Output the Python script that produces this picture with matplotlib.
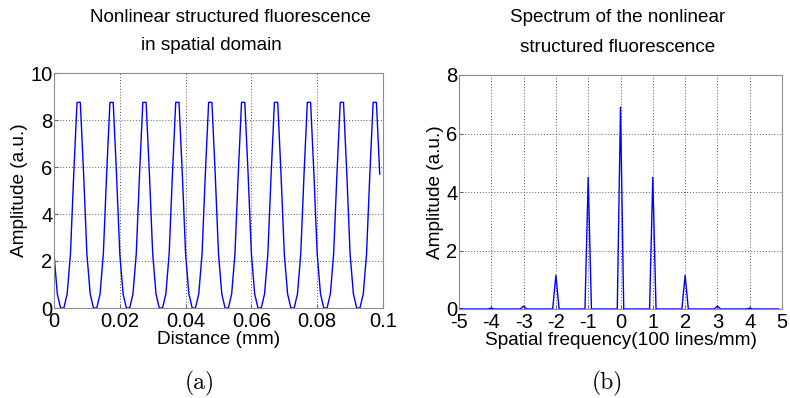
import numpy as np
import matplotlib
matplotlib.use("Agg")
from matplotlib import pyplot as plt

# --- datos ---
# (a) fluorescencia estructurada, muestreo cada 0.001 mm (100 muestras)
dx = 0.001
amplitude = [
    2.3, 0.6, 0.0, 0.0, 0.6, 2.3, 5.7, 8.75, 8.75, 5.7,
    2.3, 0.6, 0.0, 0.0, 0.6, 2.3, 5.7, 8.75, 8.75, 5.7,
    2.3, 0.6, 0.0, 0.0, 0.6, 2.3, 5.7, 8.75, 8.75, 5.7,
    2.3, 0.6, 0.0, 0.0, 0.6, 2.3, 5.7, 8.75, 8.75, 5.7,
    2.3, 0.6, 0.0, 0.0, 0.6, 2.3, 5.7, 8.75, 8.75, 5.7,
    2.3, 0.6, 0.0, 0.0, 0.6, 2.3, 5.7, 8.75, 8.75, 5.7,
    2.3, 0.6, 0.0, 0.0, 0.6, 2.3, 5.7, 8.75, 8.75, 5.7,
    2.3, 0.6, 0.0, 0.0, 0.6, 2.3, 5.7, 8.75, 8.75, 5.7,
    2.3, 0.6, 0.0, 0.0, 0.6, 2.3, 5.7, 8.75, 8.75, 5.7,
    2.3, 0.6, 0.0, 0.0, 0.6, 2.3, 5.7, 8.75, 8.75, 5.7,
]

# (b) espectro: armonicos (en unidades de 100 lineas/mm)
harmonic_orders = [-5, -4, -3, -2, -1, 0, 1, 2, 3, 4]
harmonic_amps = [0.02, 0.03, 0.1, 1.15, 4.5, 6.9, 4.5, 1.15, 0.1, 0.03]
df = 0.1

x_ticks_a = [0, 0.02, 0.04, 0.06, 0.08, 0.1]
x_labels_a = ["0", "0.02", "0.04", "0.06", "0.08", "0.1"]
y_ticks_a = [0, 2, 4, 6, 8, 10]
x_ticks_b = [-5, -4, -3, -2, -1, 0, 1, 2, 3, 4, 5]
x_labels_b = ["-5", "-4", "-3", "-2", "-1", "0", "1", "2", "3", "4", "5"]
y_ticks_b = [0, 2, 4, 6, 8]

plt.rcParams["font.family"] = ["Liberation Sans", "DejaVu Sans"]

x_dist = np.arange(len(amplitude)) * dx
freqs = np.round(np.arange(-5, 5, df), 1)
spectrum = np.zeros(len(freqs))
for k, a in zip(harmonic_orders, harmonic_amps):
    spectrum[np.argmin(np.abs(freqs - k))] = a

fig = plt.figure(figsize=(7.9, 3.98), dpi=100)
W, H = 790, 398
ax1 = fig.add_axes([54 / W, 1 - 308 / H, (383 - 54) / W, (308 - 73) / H])
ax2 = fig.add_axes([459 / W, 1 - 309 / H, (782 - 459) / W, (309 - 75) / H])

BLUE = "#0000ff"
ax1.plot(x_dist, amplitude, color=BLUE, lw=1.0)
ax2.plot(freqs, spectrum, color=BLUE, lw=1.0)

TICK_FS = 14.5
LABEL_FS = 13.7
TITLE_FS = 13.6


def estilo(ax, xt, xl, yt, xlim, ylim):
    ax.set_xlim(*xlim)
    ax.set_ylim(*ylim)
    ax.set_xticks(xt)
    ax.set_xticklabels(xl)
    ax.set_yticks(yt)
    ax.set_yticklabels([str(v) for v in yt])
    ax.grid(True, color="0.35", linestyle=(0, (1, 2)), lw=0.7)
    ax.tick_params(direction="in", length=3, labelsize=TICK_FS, color="0.4")
    ax.tick_params(axis="x", pad=3)
    ax.tick_params(axis="y", pad=1)
    for s in ax.spines.values():
        s.set_color("0.55")
        s.set_linewidth(0.8)


estilo(ax1, x_ticks_a, x_labels_a, y_ticks_a, (0, 0.1), (0, 10))
estilo(ax2, x_ticks_b, x_labels_b, y_ticks_b, (-5, 5), (0, 8))

ax1.set_xlabel("Distance (mm)", fontsize=LABEL_FS, labelpad=0)
ax1.set_ylabel("Amplitude (a.u.)", fontsize=LABEL_FS, labelpad=2)
ax2.set_xlabel("Spatial frequency(100 lines/mm)", fontsize=LABEL_FS, labelpad=0)
ax2.set_ylabel("Amplitude (a.u.)", fontsize=LABEL_FS, labelpad=2)

fig.text(230 / W, 1 - 18 / H, "Nonlinear structured fluorescence", ha="center", va="center", fontsize=TITLE_FS)
fig.text(211 / W, 1 - 46 / H, "in spatial domain", ha="center", va="center", fontsize=TITLE_FS)
fig.text(618 / W, 1 - 18 / H, "Spectrum of the nonlinear", ha="center", va="center", fontsize=TITLE_FS)
fig.text(618 / W, 1 - 48 / H, "structured fluorescence", ha="center", va="center", fontsize=TITLE_FS)

fig.text(200 / W, 1 - 383 / H, "(a)", ha="center", va="center", fontsize=17, fontname="cmr10")
fig.text(607 / W, 1 - 383 / H, "(b)", ha="center", va="center", fontsize=17, fontname="cmr10")

fig.savefig("out.png", dpi=100)
